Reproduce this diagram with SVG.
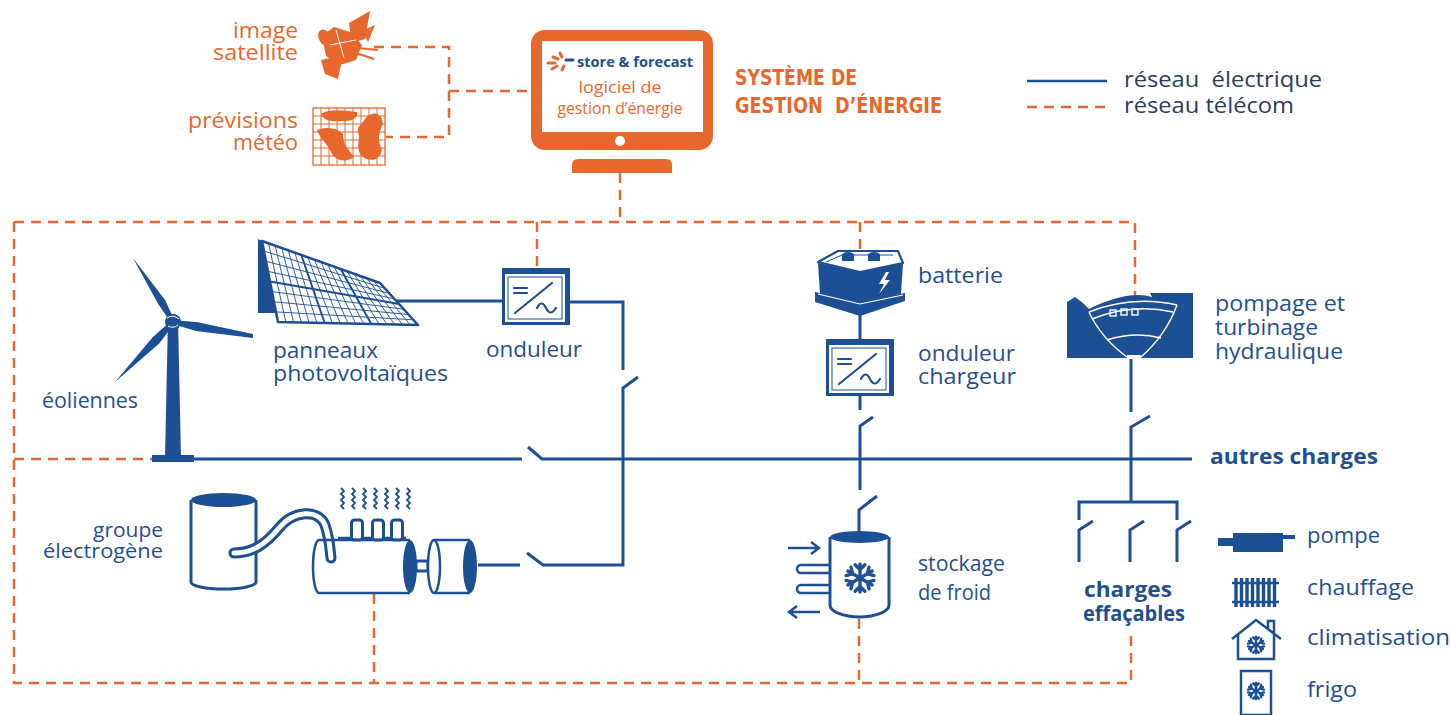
<svg xmlns="http://www.w3.org/2000/svg" xmlns:xlink="http://www.w3.org/1999/xlink" width="1451" height="715" viewBox="0 0 1451 715">
  <style>
    .el { stroke: #1c4f93; stroke-width: 3; fill: none; }
    .tc { stroke: #e8672d; stroke-width: 2.5; stroke-dasharray: 10 7; fill: none; }
    .bl { fill: #1c4f93; }
    .ol { fill: #fff; stroke: #1c4f93; stroke-width: 3; }
    .lb { font-family: "Open Sans", "Liberation Sans", sans-serif; font-size: 22px; fill: #1f4f8f; }
    .org { fill: #e8672d; }
    .bd { font-weight: bold; }
    .lg { fill: #2a3d5c; }
    .sy { font-family: "DejaVu Sans Condensed", "DejaVu Sans", sans-serif; font-weight: bold; font-size: 21px; fill: #e8672d; }
    .wv { stroke: #1c4f93; stroke-width: 1.8; fill: none; }
  </style>
  <defs>
    <g id="arm2"><path d="M0,-10V10M-3.5,-9.5L0,-6L3.5,-9.5M-3.5,9.5L0,6L3.5,9.5"/></g>
    <g id="flake" fill="none" stroke-linecap="round">
      <use xlink:href="#arm2"/>
      <use xlink:href="#arm2" transform="rotate(60)"/>
      <use xlink:href="#arm2" transform="rotate(120)"/>
    </g>
    <g id="inverter">
      <rect x="0" y="0" width="68" height="57" fill="#1c4f93"/>
      <rect x="3" y="6" width="60" height="48" fill="#fff"/>
      <rect x="6" y="9" width="54" height="42" fill="none" stroke="#1c4f93" stroke-width="1"/>
      <path d="M12,20H25M12,25H25M13,45L50,15M35,40c3,-6 6,-6 9,0s6,6 10,0" fill="none" stroke="#1c4f93" stroke-width="2.2" stroke-linecap="round"/>
    </g>
  </defs>

  <rect width="1451" height="715" fill="#fff"/>

  <!-- connectors: telecom (dashed) and electrical (solid) -->
  <g id="connectors">
    <g id="telecom">
      <path class="tc" d="M374,47H449V137H386"/>
      <path class="tc" d="M449,91H531"/>
      <path class="tc" d="M620,173V222"/>
      <path class="tc" d="M14,222H1135V298"/>
      <path class="tc" d="M14,222V683H1131V635"/>
      <path class="tc" d="M14,459H152"/>
      <path class="tc" d="M537,222V268"/>
      <path class="tc" d="M860,222V250"/>
      <path class="tc" d="M374,594V683"/>
      <path class="tc" d="M859,619V683"/>
    </g>
    <g id="electrical">
      <path class="el" d="M193,459H522"/>
      <path class="el" d="M528,447L542,459H1192"/>
      <path class="el" d="M396,301H502"/>
      <path class="el" d="M570,302H623V370"/>
      <path class="el" d="M638,377L623,388V565H543L527,553"/>
      <path class="el" d="M520,565H478"/>
      <path class="el" d="M860,315V339M860,396V410"/>
      <path class="el" d="M873,417L860,426V490"/>
      <path class="el" d="M877,496L859,510V531"/>
      <path class="el" d="M1131,358V412"/>
      <path class="el" d="M1150,416L1131,427V502"/>
      <path class="el" d="M1079,520V502H1177V520"/>
      <path class="el" d="M1093,521L1079,530V562M1144,521L1130,530V562M1191,521L1177,530V562"/>
    </g>
  </g>

  <!-- satellite image source -->
  <g id="satellite">
    <g class="org">
      <polygon points="349,23 370,11 365,39 352,43"/>
      <polygon points="321,60 343,55 338,79 325,74"/>
      <polygon points="322,36 334,27 350,32 362,45 356,60 340,65 326,56"/>
      <polygon points="362,31 375,25 368,42"/>
      <ellipse cx="325" cy="38" rx="6" ry="9" transform="rotate(-30 325 38)"/>
    </g>
    <path d="M336,30L344,58M330,45L356,40" stroke="#fff" stroke-width="1" fill="none"/>
    <path d="M358,48L378,50M356,53L374,59" stroke="#e8672d" stroke-width="2"/>
    <text class="lb org" x="298" y="38" text-anchor="end" textLength="65" lengthAdjust="spacingAndGlyphs">image</text>
    <text class="lb org" x="298" y="60" text-anchor="end" textLength="85" lengthAdjust="spacingAndGlyphs">satellite</text>
  </g>

  <!-- weather forecast source -->
  <g id="meteo">
    <rect x="313" y="108" width="72" height="57" fill="none" stroke="#e8672d" stroke-width="1.3"/>
    <path d="M321,108V165M329,108V165M337,108V165M345,108V165M353,108V165M361,108V165M369,108V165M377,108V165M313,116H385M313,124H385M313,132H385M313,140H385M313,148H385M313,156H385" stroke="#e8672d" stroke-width="1"/>
    <g class="org">
      <path d="M321,114C330,108 345,111 357,112C359,118 350,122 342,121C333,122 324,121 321,114Z"/>
      <path d="M317,130C326,126 338,128 343,134C342,143 349,150 354,157C346,163 335,161 331,152C327,143 321,140 317,130Z"/>
      <path d="M364,120C372,110 382,112 383,124C379,132 377,140 382,150C380,161 368,163 361,155C355,147 361,139 358,132C357,126 362,124 364,120Z"/>
    </g>
    <text class="lb org" x="298" y="128" text-anchor="end" textLength="110" lengthAdjust="spacingAndGlyphs">prévisions</text>
    <text class="lb org" x="298" y="150" text-anchor="end" textLength="65" lengthAdjust="spacingAndGlyphs">météo</text>
  </g>

  <!-- energy management software -->
  <g id="ems">
    <rect x="531" y="30" width="182" height="120" rx="14" fill="#e8672d"/>
    <rect x="542" y="41" width="161" height="91" fill="#fff"/>
    <circle cx="620" cy="141" r="5" fill="#fff"/>
    <path d="M572,173V165Q572,159 578,159H666Q672,159 672,165V173Z" fill="#e8672d"/>
    <g stroke-linecap="round" stroke-width="3" stroke="#e8672d">
      <path d="M553,57L558,59M548,63L555,63M552,69L557,66M562,70L564,66M560,53L562,57"/>
      <path d="M566,60L573,60" stroke="#1c4f93"/>
    </g>
    <text x="577" y="67" font-family="'Open Sans','Liberation Sans',sans-serif" font-weight="bold" font-size="14" fill="#1f4f8f" textLength="116" lengthAdjust="spacingAndGlyphs">store &amp; forecast</text>
    <text x="620" y="93" text-anchor="middle" font-family="'Open Sans','Liberation Sans',sans-serif" font-size="16" fill="#e8672d" textLength="83" lengthAdjust="spacingAndGlyphs">logiciel de</text>
    <text x="620" y="114" text-anchor="middle" font-family="'Open Sans','Liberation Sans',sans-serif" font-size="16" fill="#e8672d" textLength="125" lengthAdjust="spacingAndGlyphs">gestion d’énergie</text>
    <text class="sy" x="735" y="85" textLength="122" lengthAdjust="spacingAndGlyphs">SYSTÈME DE</text>
    <text class="sy" x="735" y="113" textLength="207" lengthAdjust="spacingAndGlyphs" xml:space="preserve">GESTION  D’ÉNERGIE</text>
  </g>

  <!-- network legend -->
  <g id="legend-network">
    <path d="M1027,81H1107" stroke="#1c4f93" stroke-width="2.5"/>
    <path d="M1027,107H1107" class="tc"/>
    <text class="lb lg" x="1124" y="87" textLength="198" lengthAdjust="spacingAndGlyphs" xml:space="preserve">réseau  électrique</text>
    <text class="lb lg" x="1124" y="113" textLength="170" lengthAdjust="spacingAndGlyphs">réseau télécom</text>
  </g>

  <!-- wind turbine -->
  <g id="eoliennes">
    <polygon class="bl" points="168,318 178,318 181,458 165,458"/>
    <rect class="bl" x="152" y="455" width="42" height="7"/>
    <path class="bl" d="M174.7,320.9L165.2,300.2L133,258L158.5,304.4L171.3,323.1Z"/>
    <path class="bl" d="M173.3,320L197.7,322.3L253,334L253,338L196.1,331.1L172.7,324Z"/>
    <path class="bl" d="M171.6,320.6L152.7,337.2L115,382L159.2,343.5L174.4,323.4Z"/>
    <circle class="bl" cx="173" cy="322" r="8"/>
    <path d="M167,318Q173,314 179,319M168,326Q173,329 178,325" stroke="#fff" stroke-width="1" fill="none"/>
    <text class="lb" x="42" y="408" textLength="96" lengthAdjust="spacingAndGlyphs">éoliennes</text>
  </g>

  <!-- photovoltaic panels -->
  <g id="photovoltaique">
    <polygon class="bl" points="258,239 264,242 277,313 258,313"/>
    <polygon points="262,241 380,283 418,325 278,322" fill="#fff" stroke="#1c4f93" stroke-width="2.5" stroke-linejoin="round"/>
    <path stroke="#1c4f93" stroke-width="0.9" fill="none" d="M268.6,243.3L285.8,322.2M275.1,245.7L293.6,322.3M281.7,248L301.3,322.5M288.2,250.3L309.1,322.7M294.8,252.7L316.9,322.8M307.9,257.3L332.4,323.2M314.4,259.7L340.2,323.3M321,262L348,323.5M327.6,264.3L355.8,323.7M334.1,266.7L363.6,323.8M347.2,271.3L379.1,324.2M353.8,273.7L386.9,324.3M360.3,276L394.7,324.5M366.9,278.3L402.4,324.7M373.4,280.7L410.2,324.8M264,251.1L384.8,288.3M266,261.3L389.5,293.5M268,271.4L394.3,298.8M272,291.6L403.8,309.3M274,301.8L408.5,314.5M276,311.9L413.3,319.8"/>
    <path stroke="#1c4f93" stroke-width="2" fill="none" d="M301.3,255L324.7,323M340.7,269L371.3,324M270,281.5L399,304"/>
    <text class="lb" x="273" y="358" textLength="105" lengthAdjust="spacingAndGlyphs">panneaux</text>
    <text class="lb" x="273" y="381" textLength="175" lengthAdjust="spacingAndGlyphs">photovoltaïques</text>
  </g>

  <!-- PV inverter -->
  <g id="onduleur">
    <use xlink:href="#inverter" transform="translate(502,268)"/>
    <text class="lb" x="486" y="357" textLength="96" lengthAdjust="spacingAndGlyphs">onduleur</text>
  </g>

  <!-- battery -->
  <g id="batterie">
    <path d="M815,292L860,302L905,293V301L860,316L815,302Z" class="bl"/>
    <path d="M818,263L860,272V303L820,294Z" class="bl"/>
    <path d="M860,272L903,263L901,294L860,303Z" class="bl"/>
    <path d="M818,262L838,251H898L903,263L860,272Z" fill="#fff" stroke="#1c4f93" stroke-width="2.2" stroke-linejoin="round"/>
    <path d="M826,262L842,255H893" fill="none" stroke="#1c4f93" stroke-width="1"/>
    <rect class="bl" x="842" y="255" width="12" height="6"/>
    <ellipse class="bl" cx="848" cy="255" rx="6" ry="3"/>
    <rect class="bl" x="868" y="255" width="12" height="6"/>
    <ellipse class="bl" cx="874" cy="255" rx="6" ry="3"/>
    <path d="M818,294L860,304L903,295" fill="none" stroke="#fff" stroke-width="1.2"/>
    <path d="M886,272L879,284H884L879,294L890,280H885L889,272Z" fill="#fff"/>
    <text class="lb" x="918" y="283" textLength="85" lengthAdjust="spacingAndGlyphs">batterie</text>
  </g>

  <!-- charger inverter -->
  <g id="onduleur-chargeur">
    <use xlink:href="#inverter" transform="translate(826,339)"/>
    <text class="lb" x="918" y="361" textLength="97" lengthAdjust="spacingAndGlyphs">onduleur</text>
    <text class="lb" x="918" y="384" textLength="98" lengthAdjust="spacingAndGlyphs">chargeur</text>
  </g>

  <!-- pumped hydro storage -->
  <g id="pompage">
    <path class="bl" d="M1067,302L1075,297L1083,303L1089,309Q1128,290 1152,297L1150,293H1193V358H1067Z"/>
    <g stroke="#fff" stroke-width="1.4" fill="none">
      <path d="M1089,312Q1132,295 1177,305"/>
      <path d="M1092,319Q1132,303 1173,312"/>
      <path d="M1089,312Q1101,338 1127,357"/>
      <path d="M1177,305Q1166,335 1141,357"/>
      <path d="M1107,340Q1135,331 1161,338"/>
      <rect x="1110" y="310" width="6" height="6"/>
      <rect x="1121" y="309" width="6" height="6"/>
      <rect x="1132" y="309" width="6" height="6"/>
    </g>
    <rect x="1127" y="355" width="14" height="4" fill="#fff"/>
    <text class="lb" x="1215" y="311" textLength="130" lengthAdjust="spacingAndGlyphs">pompage et</text>
    <text class="lb" x="1215" y="335" textLength="103" lengthAdjust="spacingAndGlyphs">turbinage</text>
    <text class="lb" x="1215" y="359" textLength="128" lengthAdjust="spacingAndGlyphs">hydraulique</text>
  </g>

  <!-- other loads -->
  <g id="autres-charges">
    <text class="lb bd" x="1210" y="464" textLength="168" lengthAdjust="spacingAndGlyphs">autres charges</text>
  </g>

  <!-- diesel generator set -->
  <g id="groupe-electrogene">
    <path class="ol" d="M191,500V582A32.5,7 0 0 0 256,582V500"/>
    <ellipse class="bl" cx="223.5" cy="500" rx="32.5" ry="7"/>
    <path d="M234,553C252,553 265,545 279,528C293,511 318,508 325,525C330,540 330,550 331,558" fill="none" stroke="#1c4f93" stroke-width="11" stroke-linecap="round"/>
    <path d="M234,553C252,553 265,545 279,528C293,511 318,508 325,525C330,540 330,550 331,558" fill="none" stroke="#fff" stroke-width="5" stroke-linecap="round"/>
    <path d="M338,538H406" stroke="#1c4f93" stroke-width="2.5"/>
    <rect class="ol" x="351.5" y="520" width="11" height="20" rx="3" stroke-width="2.5"/>
    <rect class="ol" x="372.5" y="520" width="11" height="20" rx="3" stroke-width="2.5"/>
    <rect class="ol" x="391.5" y="520" width="11" height="20" rx="3" stroke-width="2.5"/>
    <path class="wv" d="M341,488l3,3-3,3 3,3-3,3 3,3-3,3 3,3M352,488l3,3-3,3 3,3-3,3 3,3-3,3 3,3M363,488l3,3-3,3 3,3-3,3 3,3-3,3 3,3M374,488l3,3-3,3 3,3-3,3 3,3-3,3 3,3M385,488l3,3-3,3 3,3-3,3 3,3-3,3 3,3M396,488l3,3-3,3 3,3-3,3 3,3-3,3 3,3M407,488l3,3-3,3 3,3-3,3 3,3-3,3 3,3"/>
    <path d="M410,540H319A6,26.5 0 0 0 319,593H410" fill="none" stroke="#1c4f93" stroke-width="2.5"/>
    <ellipse class="bl" cx="410" cy="566.5" rx="7" ry="26.5"/>
    <rect class="ol" x="416" y="561" width="12" height="10" stroke-width="2"/>
    <path d="M470,540H434A6,26.5 0 0 0 434,593H470" fill="#fff" stroke="#1c4f93" stroke-width="2.5"/>
    <path d="M434,540A6,26.5 0 0 1 434,593" fill="none" stroke="#1c4f93" stroke-width="2.5"/>
    <ellipse class="bl" cx="470" cy="566.5" rx="7" ry="26.5"/>
    <text class="lb" x="163" y="537" text-anchor="end" textLength="70" lengthAdjust="spacingAndGlyphs" style="font-size:20px">groupe</text>
    <text class="lb" x="163" y="558" text-anchor="end" textLength="120" lengthAdjust="spacingAndGlyphs" style="font-size:20px">électrogène</text>
  </g>

  <!-- cold storage -->
  <g id="stockage-froid">
    <path class="ol" d="M830,537V605A29.5,12 0 0 0 889,605V537"/>
    <ellipse class="bl" cx="859.5" cy="537" rx="29.5" ry="6"/>
    <path d="M830,565H801A4,4 0 0 0 801,573H830M830,585H801A4,4 0 0 0 801,593H830" fill="none" stroke="#1c4f93" stroke-width="2.5"/>
    <path d="M788,548H819M811,542L819,548L811,554M820,612H789M797,606L789,612L797,618" fill="none" stroke="#1c4f93" stroke-width="2.5"/>
    <use xlink:href="#flake" transform="translate(860,578) scale(1.4)" stroke="#1c4f93" stroke-width="2.4"/>
    <text class="lb" x="918" y="571" textLength="87" lengthAdjust="spacingAndGlyphs">stockage</text>
    <text class="lb" x="918" y="600" textLength="73" lengthAdjust="spacingAndGlyphs">de froid</text>
  </g>

  <!-- sheddable loads -->
  <g id="charges-effacables">
    <text class="lb bd" x="1128" y="597" text-anchor="middle" textLength="88" lengthAdjust="spacingAndGlyphs">charges</text>
    <text class="lb bd" x="1134" y="621" text-anchor="middle" textLength="102" lengthAdjust="spacingAndGlyphs">effaçables</text>
  </g>

  <!-- load type legend -->
  <g id="legend-loads">
    <rect class="bl" x="1218" y="538" width="16" height="8"/>
    <rect class="bl" x="1233" y="533" width="50" height="19"/>
    <rect class="bl" x="1282" y="535" width="13" height="4"/>
    <text class="lb" x="1307" y="543" textLength="73" lengthAdjust="spacingAndGlyphs">pompe</text>

    <path d="M1236,578V607M1241.5,578V607M1247,578V607M1252.5,578V607M1258,578V607M1263.5,578V607M1269,578V607M1274.5,578V607" stroke="#1c4f93" stroke-width="3.4"/>
    <path d="M1232,583H1279M1232,602H1279" stroke="#1c4f93" stroke-width="2.5"/>
    <text class="lb" x="1307" y="595" textLength="107" lengthAdjust="spacingAndGlyphs">chauffage</text>

    <path d="M1232,639L1256,620L1281,639M1238,634V659H1274V634M1268,628V621H1274V633" fill="none" stroke="#1c4f93" stroke-width="2.5"/>
    <use xlink:href="#flake" transform="translate(1256,645) scale(0.8)" stroke="#1c4f93" stroke-width="3"/>
    <text class="lb" x="1307" y="645" textLength="143" lengthAdjust="spacingAndGlyphs">climatisation</text>

    <rect x="1241" y="671" width="30" height="44" fill="none" stroke="#1c4f93" stroke-width="2.5"/>
    <use xlink:href="#flake" transform="translate(1256,691) scale(0.8)" stroke="#1c4f93" stroke-width="3"/>
    <text class="lb" x="1307" y="697" textLength="50" lengthAdjust="spacingAndGlyphs">frigo</text>
  </g>
</svg>
